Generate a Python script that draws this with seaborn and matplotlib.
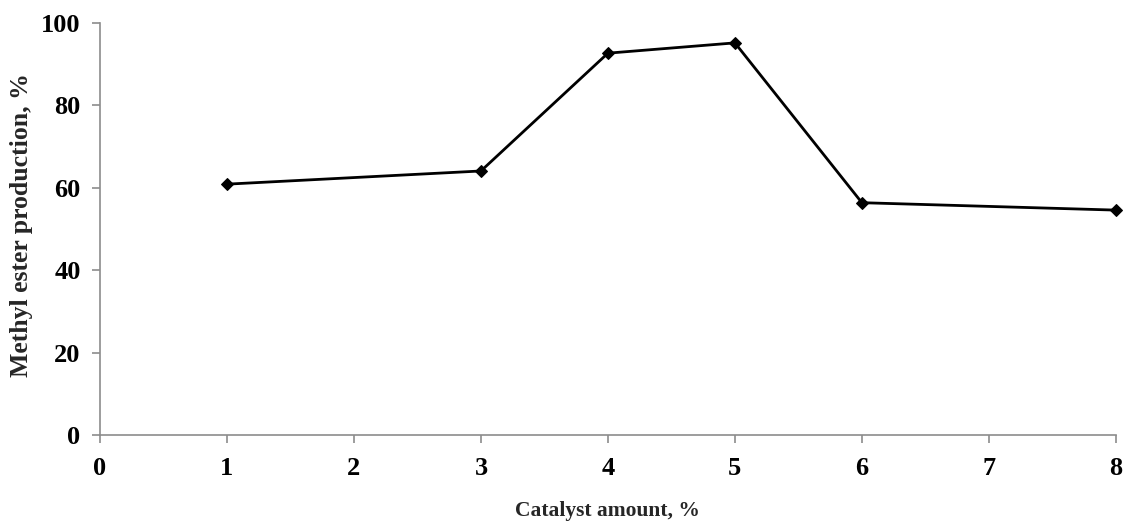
import numpy as np
import pandas as pd
import seaborn as sns
import matplotlib
matplotlib.use("Agg")
import matplotlib.pyplot as plt

# values
catalyst_amount = [1, 3, 4, 5, 6, 8]
ester_production = [60.9, 64.1, 92.7, 95.2, 56.4, 54.6]
x_ticks = [0, 1, 2, 3, 4, 5, 6, 7, 8]
y_ticks = [0, 20, 40, 60, 80, 100]


def main():
    sns.set_style("ticks")
    plt.rcParams['font.family'] = ['Liberation Serif', 'DejaVu Serif']
    plt.rcParams['font.weight'] = 'bold'

    df = pd.DataFrame({"catalyst": catalyst_amount, "production": ester_production})

    fig = plt.figure(figsize=(11.26, 5.25), dpi=100)
    ax = fig.add_axes([0.0888, 0.1714, 0.9022, 0.7846])

    sns.lineplot(data=df, x="catalyst", y="production", ax=ax, color="black",
                 linewidth=2, marker="D", markersize=6.5, markeredgecolor="black",
                 clip_on=False)

    ax.set_xlim(0, 8)
    ax.set_ylim(0, 100)
    ax.set_xticks(x_ticks)
    ax.set_yticks(y_ticks)
    sns.despine(ax=ax)
    for side in ["left", "bottom"]:
        ax.spines[side].set_color("#8c8c8c")
        ax.spines[side].set_linewidth(1.2)
    ax.tick_params(axis="both", colors="#8c8c8c", labelcolor="black", length=6,
                   width=1.2, labelsize=19)
    ax.tick_params(axis="x", pad=10)
    ax.tick_params(axis="y", pad=8)
    for lab in ax.get_xticklabels() + ax.get_yticklabels():
        lab.set_fontweight("bold")

    ax.set_xlabel("Catalyst amount, %", fontsize=15.5, fontweight="bold", labelpad=15)
    ax.set_ylabel("Methyl ester production, %", fontsize=18.5, fontweight="bold")
    ax.yaxis.set_label_coords(-0.066, 0.51)

    fig.savefig("out.png", dpi=100)
    plt.close(fig)


if __name__ == '__main__':
    main()
